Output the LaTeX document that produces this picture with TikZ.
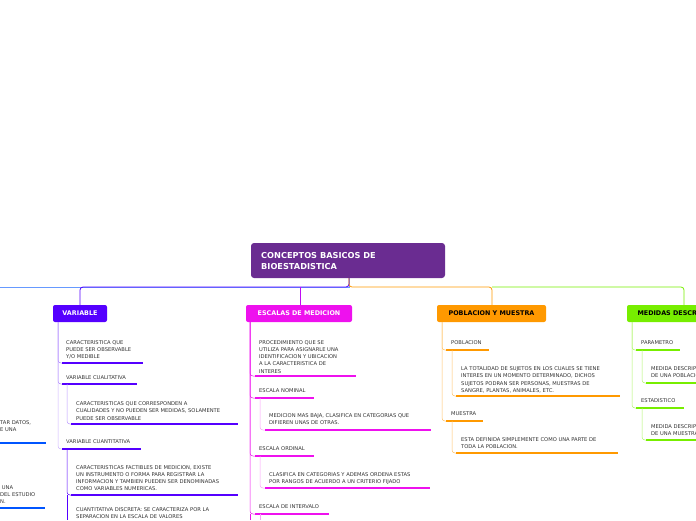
\documentclass[tikz,border=0pt]{standalone}
\usepackage{fontspec}
\setmainfont{DejaVu Sans}
\definecolor{cRoot}{HTML}{6A2C91}
\definecolor{cVar}{HTML}{5500FF}
\definecolor{cEsc}{HTML}{EE11EE}
\definecolor{cPob}{HTML}{FF9900}
\definecolor{cMed}{HTML}{77EE00}
\definecolor{cLeft}{HTML}{0055FF}
\tikzset{
  txt/.style={anchor=north west,inner sep=0pt,align=left,text=black!80,font=\fontsize{5.2}{7.3}\selectfont},
  hdr/.style={rounded corners=2pt,text=white,font=\bfseries\fontsize{6.4}{8}\selectfont},
  uline/.style={line width=2.6pt},
  twig/.style={line width=0.5pt,rounded corners=3pt}
}
\begin{document}
\begin{tikzpicture}[x=1pt,y=-1pt]
\useasboundingbox (0,0) rectangle (696,520);
%Root
\fill[cRoot,rounded corners=3pt] (251,243) rectangle (445,278);
\node[anchor=north west,inner sep=0pt,align=left,text=white,font=\bfseries\fontsize{8.2}{11}\selectfont] (root) at (261,252) {CONCEPTOS BASICOS DE\\BIOESTADISTICA};
%Branches
\draw[line width=0.8pt,cLeft!60] (349,278) |- (0,287);
\draw[line width=0.8pt,cVar,rounded corners=3pt] (349,278) |- (80,287) -- (80,305);
\draw[line width=0.8pt,cEsc!70!cVar,rounded corners=3pt] (300,287) -- (300,305);
\draw[line width=0.8pt,cPob,rounded corners=3pt] (349,278) |- (492,287) -- (492,305);
\draw[line width=0.8pt,cMed,rounded corners=3pt] (492,287) -| (684,305);
%Headers
\fill[cVar,rounded corners=2pt] (53,305) rectangle (107,322);
\node[hdr] (var) at (80,313.5) {VARIABLE};
\fill[cEsc,rounded corners=2pt] (246,305) rectangle (352,322);
\node[hdr] (esc) at (299,313.5) {ESCALAS DE MEDICION};
\fill[cPob,rounded corners=2pt] (437,305) rectangle (546,322);
\node[hdr,text=black] (pob) at (491.5,313.5) {POBLACION Y MUESTRA};
\fill[cMed,rounded corners=2pt] (627,305) rectangle (720,322);
\node[hdr,text=black,anchor=west] (med) at (634,313.5) {MEDIDAS DESCRIPTIVAS};

%Left cut branch
\node[txt] (l1) at (0,420) {TAR DATOS,\\E UNA};
\draw[uline,cLeft] (0,443) -- (46,443);
\node[txt] (l2) at (0,485) {\ UNA\\DEL ESTUDIO\\N.};
\draw[uline,cLeft] (0,508) -- (45,508);

%VARIABLE
\draw[twig,cVar!50] (58,322) |- (62,363);
\draw[twig,cVar!50] (58,322) |- (62,384);
\draw[twig,cVar!30] (58,322) |- (62,449);
\node[txt] (v1) at (66,340) {CARACTERISTICA QUE\\PUEDE SER OBSERVABLE\\Y/O MEDIBLE};
\draw[uline,cVar] (62,363) -- (143,363);
\node[txt] (v2) at (66,375.5) {VARIABLE CUALITATIVA};
\draw[uline,cVar] (62,384) -- (137,384);
\draw[twig,cVar!40] (67,384) |- (71,424);
\node[txt] (v21) at (76,401.5) {CARACTERISTICAS QUE CORRESPONDEN A\\CUALIDADES Y NO PUEDEN SER MEDIDAS, SOLAMENTE\\PUEDE SER OBSERVABLE};
\draw[uline,cVar] (71,424) -- (238,424);
\node[txt] (v3) at (66,439.5) {VARIABLE CUANTITATIVA};
\draw[uline,cVar] (62,449) -- (141,449);
\draw[twig,cVar] (67,449) |- (71,495);
\draw[twig,cVar] (67,495) -- (67,520);
\node[txt] (v31) at (76,465) {CARACTERISTICAS FACTIBLES DE MEDICION, EXISTE\\UN INSTRUMENTO O FORMA PARA REGISTRAR LA\\INFORMACION Y TAMBIEN PUEDEN SER DENOMINADAS\\COMO VARIABLES NUMERICAS.};
\draw[uline,cVar] (71,495) -- (238,495);
\node[txt] (v32) at (76,507) {CUANTITATIVA DISCRETA: SE CARACTERIZA POR LA\\SEPARACION EN LA ESCALA DE VALORES};

%ESCALAS DE MEDICION
\draw[twig,cEsc] (250,322) |- (255,376);
\draw[twig,cEsc] (250,322) |- (255,398);
\draw[twig,cEsc] (250,322) |- (255,456);
\draw[twig,cEsc] (250,322) |- (255,514);
\draw[twig,cEsc] (250,514) -- (250,520);
\node[txt] (e1) at (259,340) {PROCEDIMIENTO QUE SE\\UTILIZA PARA ASIGNARLE UNA\\IDENTIFICACION Y UBICACION\\A LA CARACTERISTICA DE\\INTERES};
\draw[uline,cEsc] (255,376) -- (356,376);
\node[txt] (e2) at (259,388.5) {ESCALA NOMINAL};
\draw[uline,cEsc] (255,398) -- (314,398);
\draw[twig,cEsc!40] (260,398) |- (265,430);
\node[txt] (e21) at (269,413.5) {MEDICION MAS BAJA, CLASIFICA EN CATEGORIAS QUE\\DIFIEREN UNAS DE OTRAS.};
\draw[uline,cEsc] (265,430) -- (431,430);
\node[txt] (e3) at (259,446.5) {ESCALA ORDINAL};
\draw[uline,cEsc] (255,456) -- (314,456);
\draw[twig,cEsc!40] (260,456) |- (265,488);
\node[txt] (e31) at (269,472) {CLASIFICA EN CATEGORIAS Y ADEMAS ORDENA ESTAS\\POR RANGOS DE ACUERDO A UN CRITERIO FIJADO};
\draw[uline,cEsc] (265,488) -- (430,488);
\node[txt] (e4) at (259,504.5) {ESCALA DE INTERVALO};
\draw[uline,cEsc] (255,514) -- (329,514);
\draw[twig,cEsc!40] (260,514) -- (260,520);

%POBLACION Y MUESTRA
\draw[twig,cPob!60] (442,322) |- (446,350);
\draw[twig,cPob!60] (442,322) |- (446,421);
\node[txt] (p1) at (451,340.5) {POBLACION};
\draw[uline,cPob] (446,350) -- (489,350);
\draw[twig,cPob!60] (452,350) |- (456,396);
\node[txt] (p11) at (461,366.5) {LA TOTALIDAD DE SUJETOS EN LOS CUALES SE TIENE\\INTERES EN UN MOMENTO DETERMINADO, DICHOS\\SUJETOS PODRAN SER PERSONAS, MUESTRAS DE\\SANGRE, PLANTAS, ANIMALES, ETC.};
\draw[uline,cPob] (456,396) -- (620,396);
\node[txt] (p2) at (451,411.5) {MUESTRA};
\draw[uline,cPob] (446,421) -- (483,421);
\draw[twig,cPob!60] (452,421) |- (456,453);
\node[txt] (p21) at (461,437.5) {ESTA DEFINIDA SIMPLEMENTE COMO UNA PARTE DE\\TODA LA POBLACION.};
\draw[uline,cPob] (456,453) -- (618,453);

%MEDIDAS DESCRIPTIVAS
\draw[twig,cMed!60] (632,322) |- (636,350);
\draw[twig,cMed!60] (632,322) |- (636,408);
\node[txt] (m1) at (641,340.5) {PARAMETRO};
\draw[uline,cMed] (636,350) -- (680,350);
\draw[twig,cMed!60] (642,350) |- (646,383);
\node[txt] (m11) at (651,366.5) {MEDIDA DESCRIPTIVA\\DE UNA POBLACION};
\draw[uline,cMed] (646,383) -- (700,383);
\node[txt] (m2) at (641,398.5) {ESTADISTICO};
\draw[uline,cMed] (636,408) -- (684,408);
\draw[twig,cMed!60] (642,408) |- (646,440);
\node[txt] (m21) at (651,424.5) {MEDIDA DESCRIPTIVA\\DE UNA MUESTRA};
\draw[uline,cMed] (646,440) -- (700,440);
\end{tikzpicture}
\end{document}
